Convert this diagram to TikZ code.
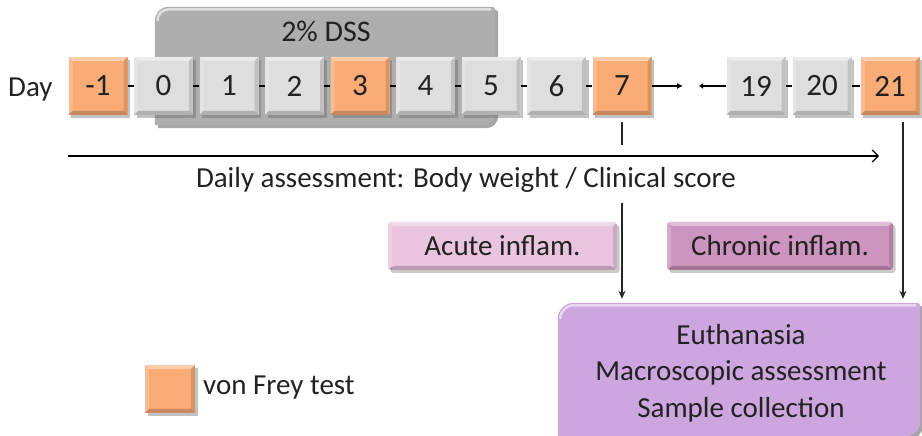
\documentclass[tikz,border=0pt]{standalone}
\usepackage{fontspec}
\setmainfont{Carlito}
\usetikzlibrary{arrows.meta,shadows}

\definecolor{vfrey}{RGB}{250,172,118}
\definecolor{dayg}{RGB}{222,222,222}
\definecolor{dssg}{RGB}{174,174,174}
\definecolor{acute}{RGB}{232,196,222}
\definecolor{chronic}{RGB}{204,148,190}
\definecolor{euthc}{RGB}{205,166,224}
\definecolor{ink}{RGB}{34,34,34}

% outline of a panel with a large top-left and bottom-right rounding
\newcommand\panelshape[3]{([yshift=-#2pt]#1.north west) arc[start angle=180,end angle=90,radius=#2pt]
  -- ([xshift=-3pt]#1.north east) arc[start angle=90,end angle=0,radius=3pt]
  -- ([yshift=#3pt]#1.south east) arc[start angle=0,end angle=-90,radius=#3pt]
  -- (#1.south west) -- cycle}

\tikzset{
  bevel/.style={path picture={
    \fill[white,opacity=0.4] (path picture bounding box.north west) -- (path picture bounding box.north east)
      -- ([shift={(-4pt,-4pt)}]path picture bounding box.north east) -- ([shift={(4pt,-4pt)}]path picture bounding box.north west) -- cycle;
    \fill[white,opacity=0.2] (path picture bounding box.north west) -- ([shift={(4pt,-4pt)}]path picture bounding box.north west)
      -- ([shift={(4pt,4pt)}]path picture bounding box.south west) -- (path picture bounding box.south west) -- cycle;
    \fill[black,opacity=0.2] (path picture bounding box.south west) -- ([shift={(4pt,4pt)}]path picture bounding box.south west)
      -- ([shift={(-4pt,4pt)}]path picture bounding box.south east) -- (path picture bounding box.south east) -- cycle;
    \fill[black,opacity=0.13] (path picture bounding box.north east) -- (path picture bounding box.south east)
      -- ([shift={(-4pt,4pt)}]path picture bounding box.south east) -- ([shift={(-4pt,-4pt)}]path picture bounding box.north east) -- cycle;
  }},
  txt/.style={font=\fontsize{29}{34}\selectfont, text=ink},
  daybox/.style={rectangle, minimum width=59pt, minimum height=58pt, inner sep=0pt, fill=dayg, bevel,
    drop shadow={shadow xshift=2.5pt, shadow yshift=-3pt, opacity=0.4, fill=black!60}, txt,
    font=\fontsize{31}{36}\selectfont},
  vfbox/.style={daybox, fill=vfrey},
  phasebox/.style={rectangle, rounded corners=3pt, inner sep=0pt, minimum height=48pt, bevel,
    drop shadow={shadow xshift=2.5pt, shadow yshift=-3pt, opacity=0.35, fill=black!60}, txt},
  panel/.style={rectangle, inner sep=0pt},
  link/.style={line width=1.2pt, draw=black},
  flow/.style={line width=1.2pt, draw=black!85, -{Stealth[length=8pt,width=7pt]}},
}

\begin{document}
\begin{tikzpicture}[x=1pt,y=1pt]
\useasboundingbox (0,0) rectangle (922,436);

% DSS treatment panel behind days 0-5
\node[panel, minimum width=340pt, minimum height=118pt] (dss) at (325,370) {};
\fill[black,opacity=0.35,transform canvas={shift={(3pt,-3pt)}}] \panelshape{dss}{14}{12};
\fill[dssg] \panelshape{dss}{14}{12};
\draw[white,opacity=0.6,line width=2.5pt] ([shift={(2.5pt,-14pt)}]dss.north west) arc[start angle=180,end angle=90,radius=11.5pt] -- ([shift={(-4pt,-2.5pt)}]dss.north east);
\node[txt, font=\fontsize{30}{34}\selectfont] (dsslbl) at (326,405) {2\% DSS};

% day label and day boxes
\node[txt, anchor=base west, inner sep=0pt] (daylbl) at (8,339) {Day};
\node[vfbox]  (dm1) at (98,350) {-1};
\node[daybox] (d0) at (163.5,350) {0};
\node[daybox] (d1) at (229,350) {1};
\node[daybox] (d2) at (294.5,350) {2};
\node[vfbox]  (d3) at (360,350) {3};
\node[daybox] (d4) at (425.5,350) {4};
\node[daybox] (d5) at (491,350) {5};
\node[daybox] (d6) at (556.5,350) {6};
\node[vfbox]  (d7) at (622,350) {7};
\node[daybox] (d19) at (756,350) {19};
\node[daybox] (d20) at (822,350) {20};
\node[vfbox]  (d21) at (890,350) {21};

\foreach \a/\b in {dm1/d0,d0/d1,d1/d2,d2/d3,d3/d4,d4/d5,d5/d6,d6/d7,d19/d20,d20/d21}
  \draw[link] (\a.east) -- (\b.west);

% break in the time line
\coordinate (brkA) at (683,350);
\coordinate (brkB) at (699,350);
\draw[link,-{Latex[length=6pt,width=6pt]}] (d7.east) -- (brkA);
\draw[link,{Latex[length=4pt,width=6pt]}-] (brkB) -- (d19.west);

% daily assessment
\coordinate (dailyA) at (68,280);
\coordinate (dailyB) at (879,280);
\draw[line width=1.2pt, -{Straight Barb[length=6pt,width=12pt]}] (dailyA) -- (dailyB);
\node[txt, anchor=base, inner sep=0pt] (daily) at (466,248) {Daily assessment: Body weight / Clinical score};

% phases
\node[phasebox, fill=acute, minimum width=229pt] (acute) at (502.5,190) {Acute inflam.};
\node[phasebox, fill=chronic, minimum width=226pt] (chronic) at (780,190) {Chronic inflam.};

% end point panel
\node[panel, minimum width=362pt, minimum height=133pt] (euth) at (739,66.5) {};
\fill[black,opacity=0.35,transform canvas={shift={(3pt,-3pt)}}] \panelshape{euth}{16}{14};
\fill[euthc] \panelshape{euth}{16}{14};
\draw[white,opacity=0.55,line width=2.5pt] ([shift={(2.5pt,-16pt)}]euth.north west) arc[start angle=180,end angle=90,radius=13.5pt] -- ([shift={(-4pt,-2.5pt)}]euth.north east);
\node[txt, align=center] (euthtxt) at (741,63) {Euthanasia\\[2.5pt]Macroscopic assessment\\[2.5pt]Sample collection};

% sacrifice time points
\coordinate (gapT) at (622,291);
\coordinate (gapB) at (622,233);
\draw[line width=1.2pt, draw=black!85, shorten <=7pt] (d7.south) -- (gapT);
\draw[flow, shorten >=4pt] (gapB) -- (gapB |- euth.north);
\draw[flow, shorten <=7pt, shorten >=4pt] ([xshift=13pt]d21.south) -- ([xshift=13pt]d21.south |- euth.north);

% legend
\node[vfbox, minimum width=50pt, minimum height=48pt] (legend) at (170,47) {};
\node[txt, anchor=base west, inner sep=0pt] (vftext) at (203,41) {von Frey test};
\end{tikzpicture}
\end{document}
